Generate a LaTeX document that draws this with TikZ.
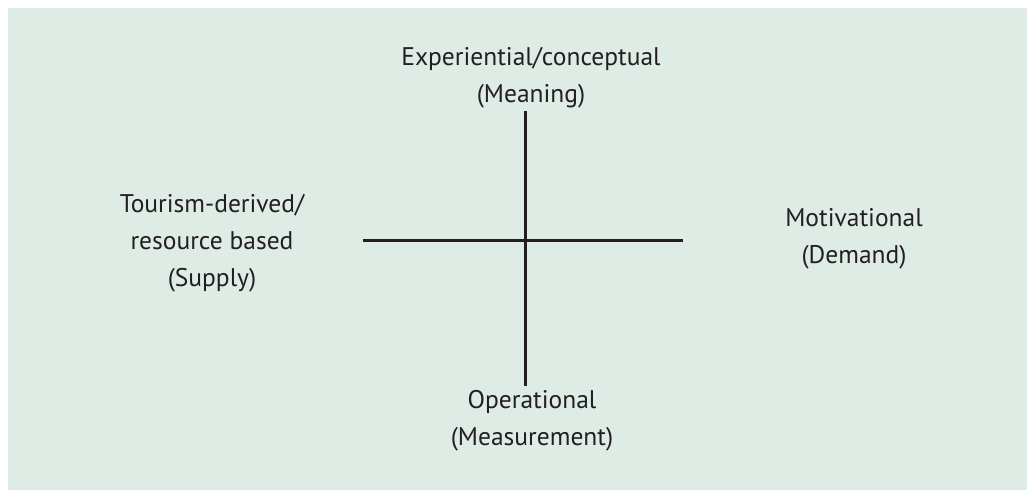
\documentclass[tikz,border=0pt]{standalone}
\usepackage{fontspec}
\setmainfont{PT Sans}
\definecolor{bgc}{HTML}{DEECE5}
\definecolor{ink}{HTML}{231F20}
\begin{document}
\begin{tikzpicture}[x=1pt,y=-1pt,
  lbl/.style={align=center,text=ink,font=\fontsize{25.5}{37}\selectfont,inner sep=0pt},
  axis/.style={draw=ink,line width=3pt}]
\useasboundingbox (0,0) rectangle (1027,490);
\fill[bgc] (8,8) rectangle (1027,490);
\coordinate (L) at (363,240);
\coordinate (R) at (683,240);
\coordinate (T) at (525,111);
\coordinate (B) at (525,386);
\draw[axis] (L) -- (R);
\draw[axis] (T) -- (B);
\node[lbl] (top) at (531,78) {Experiential/conceptual\\(Meaning)};
\node[lbl] (left) at (212,243) {Tourism-derived/\\resource based\\(Supply)};
\node[lbl] (right) at (854,239) {Motivational\\(Demand)};
\node[lbl] (bottom) at (532,421) {Operational\\(Measurement)};
\end{tikzpicture}
\end{document}
